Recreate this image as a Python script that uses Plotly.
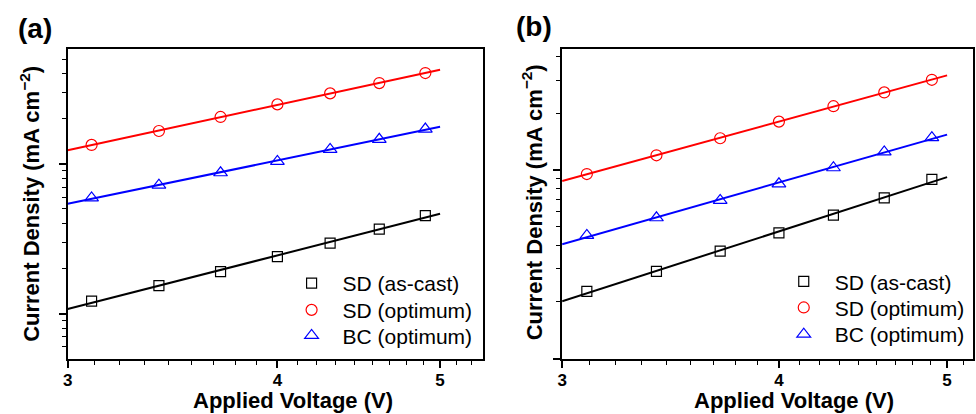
import numpy as np
import plotly.graph_objects as go

# ---- data ----
voltage = [3.1, 3.4, 3.7, 4.0, 4.3, 4.6, 4.9]

a_sd_ascast = [1.21, 1.54, 1.91, 2.40, 2.96, 3.67, 4.51]
a_sd_opt = [13.4, 16.6, 20.6, 25.0, 29.6, 34.7, 40.5]
a_bc_opt = [5.93, 7.21, 8.73, 10.4, 12.5, 14.6, 17.1]

b_sd_ascast = [2.27, 2.90, 3.71, 4.64, 5.76, 7.12, 8.92]
b_sd_opt = [9.52, 11.97, 14.74, 18.06, 21.8, 25.8, 30.1]
b_bc_opt = [4.50, 5.58, 6.90, 8.45, 10.28, 12.47, 14.85]

series_names = ["SD (as-cast)", "SD (optimum)", "BC (optimum)"]
x_tick_vals = [3, 4, 5]
x_tick_text = ["3", "4", "5"]
fit_span = [3.0, 5.0]
panel_labels = ["(a)", "(b)"]

# ---- styling ----
colors = ["#000000", "#FF0000", "#0000FF"]
symbols = ["square-open", "circle-open", "triangle-up-open"]
msizes = [10, 11, 12]
FONT = "Liberation Sans, Arial, sans-serif"
W, H = 976, 414

x_minor = [m + k / 9 for m in (3, 4) for k in range(1, 9)] + [5 + k / 9 for k in range(1, 3)]
y_major = [10.0 ** e for e in range(-1, 3)]
y_minor = [m * 10.0 ** e for e in range(-1, 2) for m in range(2, 10)]


def power_fit(x, y, span):
    p = np.polyfit(np.log10(x), np.log10(y), 1)
    xs = np.logspace(np.log10(span[0]), np.log10(span[1]), 30)
    return xs, 10 ** np.polyval(p, np.log10(xs))


def px_x(v):
    return v / W


def px_y(v):
    return 1 - v / H


fig = go.Figure()

# legend placement (pixel positions of legend symbol centre and row centre)
legend_marker_x = [310, 804.7]
legend_rows = [[285, 311.7, 337.3], [283.3, 309.3, 336]]

panels = [
    ("x", "y", [a_sd_ascast, a_sd_opt, a_bc_opt]),
    ("x2", "y2", [b_sd_ascast, b_sd_opt, b_bc_opt]),
]
legend_layouts = {}
for p, (xa, ya, sets) in enumerate(panels):
    for i, ys in enumerate(sets):
        fx, fy = power_fit(voltage, ys, fit_span)
        fig.add_trace(go.Scatter(x=fx, y=fy, mode="lines", xaxis=xa, yaxis=ya,
                                 line=dict(color=colors[i], width=2),
                                 showlegend=False, hoverinfo="skip"))
    for i, ys in enumerate(sets):
        k = p * 3 + i + 1
        lname = "legend" if k == 1 else f"legend{k}"
        fig.add_trace(go.Scatter(x=voltage, y=ys, mode="markers", xaxis=xa, yaxis=ya,
                                 name=series_names[i], legend=lname,
                                 marker=dict(symbol=symbols[i], size=msizes[i],
                                             color=colors[i], line=dict(width=1.2, color=colors[i]))))
        legend_layouts[lname] = dict(
            x=px_x(legend_marker_x[p] - 33), y=px_y(legend_rows[p][i] - 22),
            xanchor="left", yanchor="top", bgcolor="rgba(0,0,0,0)",
            font=dict(family=FONT, size=21, color="black"), itemwidth=52)

xaxis_common = dict(type="log", showline=True, linewidth=2, linecolor="black", mirror=True,
                    showgrid=False, zeroline=False, ticks="outside", ticklen=7, tickwidth=1.5,
                    tickcolor="black", tickmode="array", tickvals=x_tick_vals, ticktext=x_tick_text,
                    tickfont=dict(family=FONT, size=17, color="black", weight="bold"),
                    ticklabelstandoff=-2,
                    minor=dict(ticks="outside", ticklen=4, tickwidth=1.2, tickcolor="black",
                               tickmode="array", tickvals=x_minor, showgrid=False))
yaxis_common = dict(type="log", showline=True, linewidth=2, linecolor="black", mirror=True,
                    showgrid=False, zeroline=False, ticks="outside", ticklen=7, tickwidth=1.5,
                    tickcolor="black", tickmode="array", tickvals=y_major, showticklabels=False,
                    minor=dict(ticks="outside", ticklen=4, tickwidth=1.2, tickcolor="black",
                               tickmode="array", tickvals=y_minor, showgrid=False))

y_dom = [px_y(358.5), px_y(49)]
fig.update_layout(
    width=W, height=H, margin=dict(l=0, r=0, t=0, b=0),
    paper_bgcolor="white", plot_bgcolor="white",
    font=dict(family=FONT, color="black"),
    xaxis=dict(xaxis_common, domain=[px_x(63), px_x(480)], range=[np.log10(3), np.log10(5.30)], anchor="y"),
    yaxis=dict(yaxis_common, domain=y_dom, range=[-0.30, 1.768], anchor="x"),
    xaxis2=dict(xaxis_common, domain=[px_x(560), px_x(973)], range=[np.log10(3), np.log10(5.175)], anchor="y2"),
    yaxis2=dict(yaxis_common, domain=y_dom, range=[0, 1.642], anchor="x2"),
    **legend_layouts,
)

ann_font = dict(family=FONT, color="black", weight="bold")
annotations = [
    dict(text=panel_labels[0], x=px_x(30), y=px_y(29), font=dict(ann_font, size=28)),
    dict(text=panel_labels[1], x=px_x(532), y=px_y(26), font=dict(ann_font, size=28)),
    dict(text="Current Density (mA cm<sup>\u22122</sup>)", x=px_x(25), y=px_y(204), textangle=-90,
         font=dict(ann_font, size=22)),
    dict(text="Current Density (mA cm<sup>\u22122</sup>)", x=px_x(530), y=px_y(202), textangle=-90,
         font=dict(ann_font, size=22)),
    dict(text="Applied Voltage (V)", x=px_x(289), y=px_y(400), font=dict(ann_font, size=22)),
    dict(text="Applied Voltage (V)", x=px_x(793.5), y=px_y(400.5), font=dict(ann_font, size=22)),
]
for a in annotations:
    a.update(xref="paper", yref="paper", showarrow=False, xanchor="center", yanchor="middle")
fig.update_layout(annotations=annotations)

fig.write_html("out.html", config={"displayModeBar": False},
               post_script="document.body.style.margin='0';document.body.style.overflow='hidden';")
